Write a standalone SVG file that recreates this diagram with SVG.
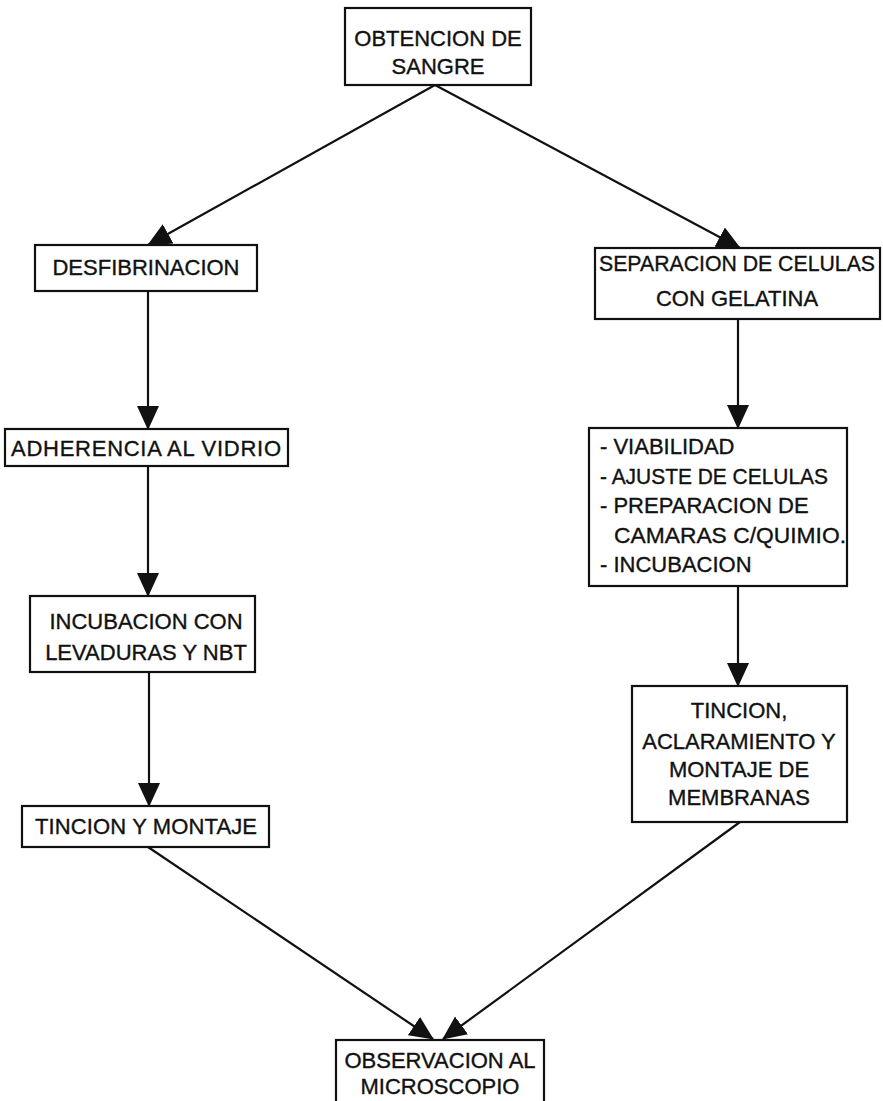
<svg xmlns="http://www.w3.org/2000/svg" width="883" height="1101" viewBox="0 0 883 1101">
<defs>
<marker id="ah" markerUnits="userSpaceOnUse" markerWidth="24" markerHeight="24" viewBox="0 0 24 24" refX="23" refY="12" orient="auto">
<path d="M0,1 L24,12 L0,23 Z" fill="#111"/>
</marker>
<style>
.box{fill:#fff;stroke:#111;stroke-width:2.2}
.t{font-family:"Liberation Sans",Arial,sans-serif;font-size:22px;fill:#111;stroke:#111;stroke-width:0.35}
.c{text-anchor:middle}
.ln{stroke:#111;stroke-width:2.2;fill:none;marker-end:url(#ah)}
</style>
</defs>
<rect width="883" height="1101" fill="#fff"/>
<g id="connectors">
<line class="ln" x1="435" y1="85" x2="148" y2="245"/>
<line class="ln" x1="435" y1="85" x2="740" y2="248"/>
<line class="ln" x1="148" y1="291" x2="148" y2="429"/>
<line class="ln" x1="148" y1="466" x2="148" y2="596"/>
<line class="ln" x1="149" y1="672" x2="149" y2="806"/>
<line class="ln" x1="738" y1="319" x2="738" y2="428"/>
<line class="ln" x1="738" y1="586" x2="738" y2="686"/>
<line class="ln" x1="148" y1="847" x2="433" y2="1039"/>
<line class="ln" x1="740" y1="822" x2="443" y2="1039"/>
</g>
<g id="n1"><rect class="box" x="345" y="8" width="186" height="77"/>
<text class="t c" x="438" y="46">OBTENCION DE</text><text class="t c" x="438" y="74">SANGRE</text></g>
<g id="n2"><rect class="box" x="35" y="245" width="222" height="46"/>
<text class="t c" x="146" y="275">DESFIBRINACION</text></g>
<g id="n3"><rect class="box" x="5" y="429" width="283" height="37"/>
<text class="t c" x="146" y="456" textLength="270" lengthAdjust="spacing">ADHERENCIA AL VIDRIO</text></g>
<g id="n4"><rect class="box" x="30" y="596" width="225" height="76"/>
<text class="t c" x="146" y="629">INCUBACION CON</text><text class="t c" x="146" y="660">LEVADURAS Y NBT</text></g>
<g id="n5"><rect class="box" x="22" y="806" width="247" height="41"/>
<text class="t c" x="146" y="834" textLength="222" lengthAdjust="spacing">TINCION Y MONTAJE</text></g>
<g id="n6"><rect class="box" x="595" y="248" width="285" height="71"/>
<text class="t c" x="737" y="271" textLength="276" lengthAdjust="spacingAndGlyphs">SEPARACION DE CELULAS</text><text class="t c" x="737" y="306">CON GELATINA</text></g>
<g id="n7"><rect class="box" x="589" y="428" width="258" height="158"/>
<text class="t" x="600" y="454">- VIABILIDAD</text>
<text class="t" x="600" y="484" textLength="228" lengthAdjust="spacingAndGlyphs">- AJUSTE DE CELULAS</text>
<text class="t" x="600" y="513">- PREPARACION DE</text>
<text class="t" x="614" y="543" textLength="232" lengthAdjust="spacingAndGlyphs">CAMARAS C/QUIMIO.</text>
<text class="t" x="600" y="572">- INCUBACION</text></g>
<g id="n8"><rect class="box" x="632" y="686" width="215" height="136"/>
<text class="t c" x="739" y="718">TINCION,</text><text class="t c" x="739" y="749">ACLARAMIENTO Y</text><text class="t c" x="739" y="777">MONTAJE DE</text><text class="t c" x="739" y="805">MEMBRANAS</text></g>
<g id="n9"><rect class="box" x="336" y="1040" width="208" height="70"/>
<text class="t c" x="440" y="1068">OBSERVACION AL</text><text class="t c" x="440" y="1094">MICROSCOPIO</text></g>
</svg>
